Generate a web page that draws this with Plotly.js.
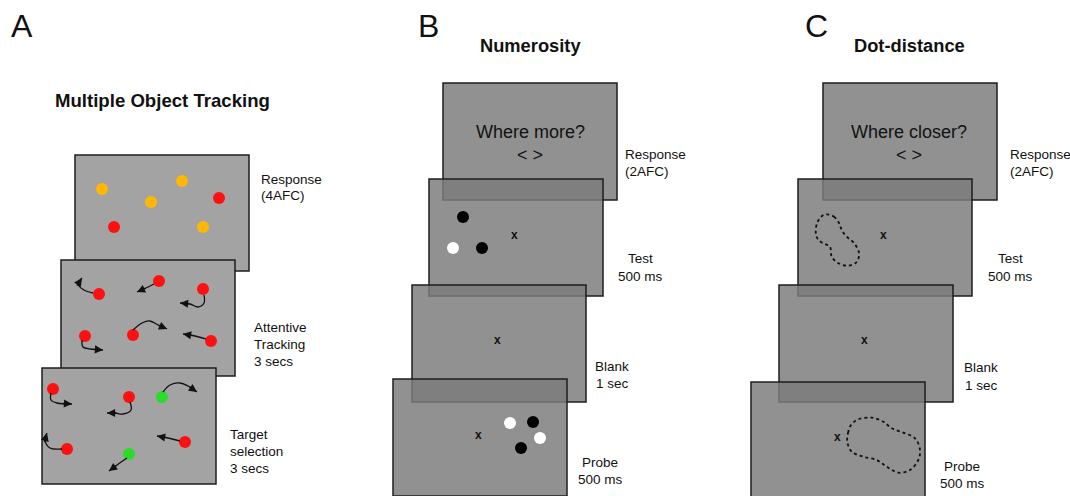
<!DOCTYPE html>
<html><head><meta charset="utf-8">
<script src="https://cdn.plot.ly/plotly-3.0.1.min.js"></script>
<style>html,body{margin:0;padding:0;background:#fff}#chart{width:1070px;height:496px}</style>
</head><body><div id="chart"></div>
<script>
// ---------- content ----------
const panelLetters = ['A', 'B', 'C'];
const panelTitles = ['Multiple Object Tracking', 'Numerosity', 'Dot-distance'];
const questionTexts = ['Where more?', 'Where closer?'];
const choiceText = '< >';
const fixationText = 'x';
const labelsA = [['Response', '(4AFC)'], ['Attentive', 'Tracking', '3 secs'], ['Target', 'selection', '3 secs']];
const labelsBC = [['Response', '(2AFC)'], ['Test', '500 ms'], ['Blank', '1 sec'], ['Probe', '500 ms']];

// dots (pixel positions in the figure) and their colours
const respDotsX = [102, 151, 182, 219, 114, 203];
const respDotsY = [189, 202, 181, 198, 227, 227];
const respDotsC = ['yellow', 'yellow', 'yellow', 'red', 'red', 'yellow'];
const trackDotsX = [99, 159, 203, 85, 133, 211];
const trackDotsY = [294, 281, 289, 336, 335, 341];
const trackDotsC = ['red', 'red', 'red', 'red', 'red', 'red'];
const selDotsX = [53, 129, 162, 67, 129, 185];
const selDotsY = [389, 397, 397, 449, 454, 442];
const selDotsC = ['red', 'red', 'green', 'red', 'green', 'red'];
const numTestX = [463, 453, 482];
const numTestY = [217, 248, 248];
const numTestC = ['black', 'white', 'black'];
const numProbeX = [510, 533, 540, 521];
const numProbeY = [423, 422, 438, 448];
const numProbeC = ['white', 'black', 'white', 'black'];

// motion trajectories (arrow paths) in panel A
const trackArrows = [
  [[93,293],[84,290],[78,284],[82,278]],
  [[154,284],[146,288],[137,292]],
  [[204,295],[204,303],[198,307],[190,304],[180,303]],
  [[82,340],[83,347],[90,349],[103,350]],
  [[133,330],[142,323],[150,321],[158,325],[167,329]],
  [[206,339],[195,336],[183,334]]
];
const selArrows = [
  [[51,393],[51,400],[57,403],[72,404]],
  [[130,402],[131,410],[123,414],[115,413],[107,413]],
  [[163,392],[170,385],[180,383],[188,386],[197,392]],
  [[62,449],[50,448],[45,440],[47,433]],
  [[127,458],[117,465],[109,471]],
  [[180,441],[168,438],[157,436]]
];
// dotted outlines in panel C
const testBlob = [[826.7,214.3],[834,216.7],[839,223],[841.7,230],[846.7,236.7],[854,243],[859,253],[856.7,262],[848,265.7],[838,263],[831.7,256.7],[830,246.7],[825,244],[818.3,240],[815.7,231.7],[817.7,221.7],[822.3,215.7],[826.7,214.3]];
const probeBlob = [[851,425],[848.3,431.7],[847.3,441.7],[851.7,451.7],[863.3,456.7],[876.7,460],[886.7,466.7],[898.3,472.7],[910,470],[918.3,460],[920,450],[915,438.3],[903.3,432.7],[891.7,428.3],[883.3,421.7],[871.7,417.7],[858.3,419.3],[851,425]];

// ---------- layout / style ----------
const W = 1070, H = 496;
const FONT = '"Liberation Sans", Arial, Helvetica, sans-serif';
const dotColours = {yellow:'#ffb703', red:'#ff1010', green:'#2bdc2b', black:'#000000', white:'#ffffff'};
const scrW = 174, scrH = 116;
const screensA = [[75,155],[61,260],[42,368]];
const screensB = [[443,83],[429,179],[412,285],[393,379]];
const screensC = [[823,83],[798,179],[779,285],[751,382]];

const shapes = [];
function screen(p, fill, h) {
  shapes.push({type:'rect', xref:'x', yref:'y', x0:p[0], x1:p[0]+scrW, y0:p[1], y1:p[1]+h,
    fillcolor:fill, line:{color:'#1e1e1e', width:1.5}, layer:'below'});
}
screensA.forEach(p => screen(p, '#a3a3a3', scrH));
screensB.forEach(p => screen(p, 'rgba(124,124,124,0.84)', scrH+1));
screensC.forEach(p => screen(p, 'rgba(124,124,124,0.84)', scrH+1));

const traces = [];
function dots(xs, ys, cs) {
  traces.push({type:'scatter', mode:'markers', x:xs, y:ys, hoverinfo:'skip',
    marker:{size:12, color:cs.map(c => dotColours[c]), line:{width:0}}});
}
dots(respDotsX, respDotsY, respDotsC);
dots(trackDotsX, trackDotsY, trackDotsC);
dots(selDotsX, selDotsY, selDotsC);
dots(numTestX, numTestY, numTestC);
dots(numProbeX, numProbeY, numProbeC);

const ann = [];
function arrow(pts) {
  traces.push({type:'scatter', mode:'lines', x:pts.map(p=>p[0]), y:pts.map(p=>p[1]),
    line:{color:'#111', width:1.3, shape:'spline'}, hoverinfo:'skip'});
  const a = pts[pts.length-1], b = pts[pts.length-2];
  const dx = b[0]-a[0], dy = b[1]-a[1], len = Math.hypot(dx, dy);
  const tail = 11;
  ann.push({xref:'x', yref:'y', axref:'x', ayref:'y', x:a[0], y:a[1],
    ax: a[0] + dx/len*tail, ay: a[1] + dy/len*tail,
    text:'', showarrow:true, arrowhead:2, arrowsize:1.25, arrowwidth:1.3, arrowcolor:'#111', standoff:0});
}
trackArrows.forEach(arrow);
selArrows.forEach(arrow);

function blob(pts) {
  traces.push({type:'scatter', mode:'lines', x:pts.map(p=>p[0]), y:pts.map(p=>p[1]), hoverinfo:'skip',
    line:{color:'#111', width:1.8, dash:'dot', shape:'spline', smoothing:1}});
}
blob(testBlob);
blob(probeBlob);

function txt(x, y, t, size, opts) {
  ann.push(Object.assign({xref:'x', yref:'y', x:x, y:y, text:t, showarrow:false,
    xanchor:'center', yanchor:'middle', font:{family:FONT, size:size, color:'#111'}}, opts||{}));
}
function lines(x, ys, arr, align) {
  arr.forEach((t, i) => txt(x, ys[i], t, 13.5, {xanchor:align}));
}
// panel letters and titles
txt(22, 26, panelLetters[0], 32);
txt(428, 26, panelLetters[1], 32);
txt(816, 26, panelLetters[2], 32);
txt(162, 100, '<b>' + panelTitles[0] + '</b>', 18.6);
txt(530, 45, '<b>' + panelTitles[1] + '</b>', 18.3);
txt(909, 45, '<b>' + panelTitles[2] + '</b>', 18.3);
// response screen texts
txt(530, 132, questionTexts[0], 18);
txt(530, 155, choiceText, 18);
txt(909, 132, questionTexts[1], 18);
txt(909, 155, choiceText, 18);
// fixation crosses
[[514,235],[497,340],[478,435],[883,235],[864,340],[837,437]].forEach(p => txt(p[0], p[1], '<b>' + fixationText + '</b>', 12));
// step labels
lines(259, [179,195], labelsA[0], 'left');
lines(252, [327,344,361], labelsA[1], 'left');
lines(228, [434,451,468], labelsA[2], 'left');
lines(623, [154,171], labelsBC[0], 'left');
lines(640, [258,276], labelsBC[1], 'center');
lines(612, [366,383], labelsBC[2], 'center');
lines(600, [462,479], labelsBC[3], 'center');
lines(1008, [154,171], labelsBC[0], 'left');
lines(1010, [258,276], labelsBC[1], 'center');
lines(981, [367,385], labelsBC[2], 'center');
lines(962, [466,483], labelsBC[3], 'center');

const layout = {
  width: W, height: H, margin:{l:0, r:0, t:0, b:0},
  paper_bgcolor:'#ffffff', plot_bgcolor:'#ffffff', showlegend:false,
  xaxis:{range:[0, W], visible:false, fixedrange:true},
  yaxis:{range:[H, 0], visible:false, fixedrange:true},
  shapes: shapes, annotations: ann
};
Plotly.newPlot('chart', traces, layout, {displayModeBar:false, staticPlot:true});
</script></body></html>
